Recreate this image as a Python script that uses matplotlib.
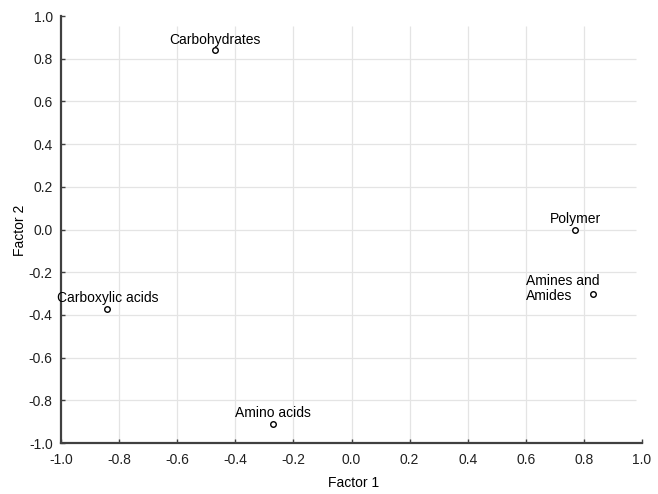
import matplotlib
matplotlib.use("Agg")
import matplotlib.pyplot as plt
import numpy as np

plt.rcParams['font.family'] = ['Liberation Sans', 'DejaVu Sans']

# factor loadings
names = ['Carbohydrates', 'Polymer', 'Carboxylic acids', 'Amino acids', 'Amines and\nAmides']
factor1 = [-0.47, 0.77, -0.84, -0.27, 0.83]
factor2 = [0.84, 0.00, -0.37, -0.91, -0.30]

ticks = [-1.0, -0.8, -0.6, -0.4, -0.2, 0.0, 0.2, 0.4, 0.6, 0.8, 1.0]
tick_labels = ['%.1f' % t for t in ticks]

fig = plt.figure(figsize=(6.58, 4.94), dpi=100)
ax = fig.add_axes([0.0927, 0.1032, 0.883, 0.8644])

# grid stops a little short of the top / right edge
inner = ticks[1:-1]
ax.vlines(inner, -1.0, 0.953, color='#e4e4e4', linewidth=0.9, zorder=0)
ax.hlines(inner, -1.0, 0.98, color='#e4e4e4', linewidth=0.9, zorder=0)

ax.scatter(factor1, factor2, s=16, facecolors='white', edgecolors='black',
           linewidths=1.0, zorder=3)

for i, name in enumerate(names):
    if '\n' in name:
        ax.annotate(name, (factor1[i], factor2[i]), xytext=(-48, 3.5),
                    textcoords='offset points', ha='left', va='center',
                    fontsize=10, linespacing=1.05)
    else:
        ax.annotate(name, (factor1[i], factor2[i]), xytext=(0, 2.5),
                    textcoords='offset points', ha='center', va='bottom',
                    fontsize=10)

ax.set_xlim(-1.0, 1.0)
ax.set_ylim(-1.0, 1.0)
ax.set_xticks(ticks)
ax.set_yticks(ticks)
ax.set_xticklabels(tick_labels)
ax.set_yticklabels(tick_labels)
ax.tick_params(direction='in', length=3, width=1, labelsize=10,
               colors='#404040', labelcolor='#202020')
ax.tick_params(axis='x', pad=7)
ax.tick_params(axis='y', pad=6)

for side in ['top', 'right']:
    ax.spines[side].set_visible(False)
for side in ['left', 'bottom']:
    ax.spines[side].set_linewidth(1.6)
    ax.spines[side].set_color('#404040')

ax.set_xlabel('Factor 1', fontsize=10, va='center')
ax.set_ylabel('Factor 2', fontsize=10, va='center')
ax.xaxis.set_label_coords(0.504, -0.094)
ax.yaxis.set_label_coords(-0.071, 0.497)

fig.savefig('out.png', dpi=100)
